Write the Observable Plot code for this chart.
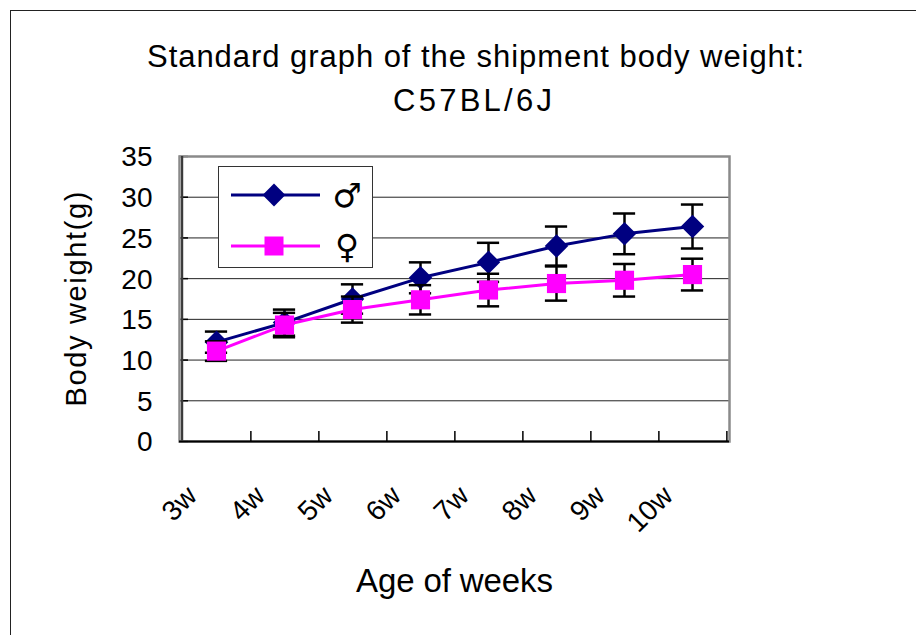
<!DOCTYPE html>
<html><head><meta charset="utf-8">
<script src="https://cdn.jsdelivr.net/npm/d3@7"></script>
<script src="https://cdn.jsdelivr.net/npm/@observablehq/plot@0.6"></script>
<style>
html,body{margin:0;padding:0;background:#fff;overflow:hidden;}
#wrap{position:relative;width:916px;height:635px;overflow:hidden;}
#border{position:absolute;left:10px;top:10px;width:940px;height:660px;border:1.5px solid #222;pointer-events:none;}
#legend{position:absolute;left:218px;top:166px;width:153px;height:100px;border:1.5px solid #333;background:#fff;}
#chart svg{display:block;}
</style></head><body>
<div id="wrap"><div id="chart"></div><div id="legend"></div><div id="border"></div></div>
<script>
// ---- data ----
const weeks = ["3w","4w","5w","6w","7w","8w","9w","10w"];
const maleMean = [12.2, 14.6, 17.5, 20.1, 22.0, 24.0, 25.5, 26.4];
const maleSD   = [1.3, 1.6, 1.8, 1.9, 2.4, 2.4, 2.5, 2.7];
const femaleMean = [11.1, 14.3, 16.2, 17.4, 18.6, 19.4, 19.8, 20.5];
const femaleSD   = [1.2, 1.5, 1.6, 1.8, 2.0, 2.1, 2.0, 1.95];
const seriesNames = ["♂", "♀"];
const seriesColors = ["#000080", "#FF00FF"];
const seriesSymbols = ["diamond2", "square"];
const yTicks = [0, 5, 10, 15, 20, 25, 30, 35];
const titleLines = ["Standard graph of the shipment body weight:", "C57BL/6J"];
const xLabel = "Age of weeks";
const yLabel = "Body weight(g)";

// ---- build tables ----
const male = weeks.map((w, i) => ({week: w, mean: maleMean[i], sd: maleSD[i]}));
const female = weeks.map((w, i) => ({week: w, mean: femaleMean[i], sd: femaleSD[i]}));

const W = 916, H = 635, mL = 179, mR = 187, mT = 156, mB = 194;
const frameW = W - mL - mR, frameH = H - mT - mB;
const bw = frameW / weeks.length;
const capInset = (bw - 23) / 2;

function seriesMarks(arr, color, symbol, r) {
  return [
    Plot.ruleX(arr, {x: "week", y1: d => d.mean - d.sd, y2: d => d.mean + d.sd, stroke: "#000", strokeWidth: 2.5}),
    Plot.tickY(arr, {x: "week", y: d => d.mean + d.sd, stroke: "#000", strokeWidth: 2.5, inset: capInset}),
    Plot.tickY(arr, {x: "week", y: d => d.mean - d.sd, stroke: "#000", strokeWidth: 2.5, inset: capInset}),
    Plot.line(arr, {x: "week", y: "mean", stroke: color, strokeWidth: 3}),
    Plot.dot(arr, {x: "week", y: "mean", symbol: symbol, r: r, fill: color, stroke: "none"})
  ];
}

const chart = Plot.plot({
  width: W, height: H,
  marginLeft: mL, marginRight: mR, marginTop: mT, marginBottom: mB,
  style: {fontFamily: "Arial, 'Liberation Sans', sans-serif", color: "#000", background: "#fff"},
  x: {type: "band", domain: weeks, padding: 0, axis: null},
  y: {domain: [0, 35], axis: null},
  marks: [
    Plot.ruleY(yTicks.filter(v => v > 0 && v < 35), {stroke: "#222", strokeWidth: 1}),
    Plot.ruleY(yTicks, {stroke: "#000", strokeWidth: 1.5, insetRight: frameW - 9}),
    Plot.frame({stroke: "#8a8a8a", strokeWidth: 2.5}),
    Plot.ruleY([0], {stroke: "#000", strokeWidth: 2.2}),
    Plot.ruleX([weeks[0]], {dx: -bw / 2, stroke: "#3a3a3a", strokeWidth: 2.2}),
    Plot.ruleX(weeks, {dx: bw / 2, insetTop: frameH - 10, stroke: "#000", strokeWidth: 1.5}),
    ...seriesMarks(male, seriesColors[0], seriesSymbols[0], 10.6),
    ...seriesMarks(female, seriesColors[1], seriesSymbols[1], 10.8),
    Plot.axisY(yTicks, {tickSize: 0, tickPadding: 27, fontSize: 28, label: null, dy: 1}),
    Plot.text(weeks, {x: d => d, frameAnchor: "bottom", rotate: -45, textAnchor: "end", lineAnchor: "bottom", dx: -18, dy: 56, fontSize: 28}),
    Plot.text([titleLines[0]], {frameAnchor: "top", textAnchor: "middle", dx: 21, dy: -90, lineAnchor: "bottom", fontSize: 31}),
    Plot.text([titleLines[1]], {frameAnchor: "top", textAnchor: "middle", dx: 18, dy: -46, lineAnchor: "bottom", fontSize: 31}),
    Plot.text([xLabel], {frameAnchor: "bottom", textAnchor: "middle", dy: 150, lineAnchor: "bottom", fontSize: 33}),
    Plot.text([yLabel], {frameAnchor: "left", textAnchor: "middle", rotate: -90, dx: -94, lineAnchor: "bottom", fontSize: 29})
  ]
});
document.getElementById("chart").appendChild(chart);

// fit a few labels to the widths measured in the reference
const fit = {};
fit[titleLines[0]] = 657; fit[titleLines[1]] = 159; fit[xLabel] = 197; fit[yLabel] = 215;
chart.querySelectorAll("text").forEach(t => {
  const s = t.textContent;
  if (fit[s]) { t.setAttribute("textLength", fit[s]); t.setAttribute("lengthAdjust", "spacing"); }
});

// ---- legend (built from seriesNames / seriesColors / seriesSymbols) ----
const lg = d3.select("#legend").append("svg").attr("width", 153).attr("height", 100);
const rowsY = [28, 79];
const symbolSize = {diamond2: 330, square: 361};
const d3sym = {diamond2: d3.symbolDiamond2, square: d3.symbolSquare};
seriesNames.forEach((name, i) => {
  const g = lg.append("g").attr("transform", `translate(0,${rowsY[i]})`);
  g.append("line").attr("x1", 12).attr("x2", 101).attr("y1", 0).attr("y2", 0)
    .attr("stroke", seriesColors[i]).attr("stroke-width", 3);
  g.append("path").attr("transform", "translate(55,0)")
    .attr("d", d3.symbol(d3sym[seriesSymbols[i]], symbolSize[seriesSymbols[i]])())
    .attr("fill", seriesColors[i]);
  g.append("text").attr("x", 128).attr("y", 0).attr("dy", "0.36em")
    .attr("text-anchor", "middle").attr("font-family", "'DejaVu Sans', sans-serif")
    .attr("font-size", 33).text(name);
});
</script>
</body></html>
